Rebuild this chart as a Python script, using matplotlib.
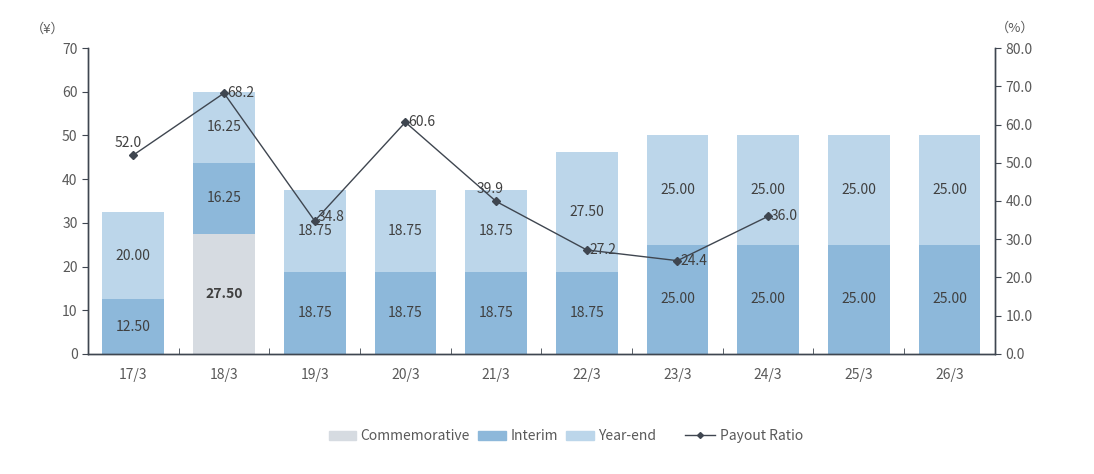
import numpy as np
import matplotlib.pyplot as plt
from matplotlib.lines import Line2D
from matplotlib.patches import Patch

plt.rcParams['font.family'] = ['Noto Sans CJK JP', 'DejaVu Sans']

years = ["17/3", "18/3", "19/3", "20/3", "21/3", "22/3", "23/3", "24/3", "25/3", "26/3"]
commemorative = [0, 27.50, 0, 0, 0, 0, 0, 0, 0, 0]
interim = [12.50, 16.25, 18.75, 18.75, 18.75, 18.75, 25.00, 25.00, 25.00, 25.00]
year_end = [20.00, 16.25, 18.75, 18.75, 18.75, 27.50, 25.00, 25.00, 25.00, 25.00]
payout = [52.0, 68.2, 34.8, 60.6, 39.9, 27.2, 24.4, 36.0]

c_comm = "#d6dbe1"
c_int = "#8db8da"
c_ye = "#bcd6ea"
c_line = "#3f4650"
c_text = "#595959"
c_lab = "#404040"

fig = plt.figure(figsize=(10.94, 4.74), dpi=100)
ax = fig.add_axes([0.0804, 0.2532, 0.829, 0.6455])
ax2 = ax.twinx()

x = np.arange(len(years))
w = 0.68
comm = np.array(commemorative)
intr = np.array(interim)
ye = np.array(year_end)

ax.bar(x, comm, w, color=c_comm, zorder=2)
ax.bar(x, intr, w, bottom=comm, color=c_int, zorder=2)
ax.bar(x, ye, w, bottom=comm + intr, color=c_ye, zorder=2)

for i in range(len(years)):
    if comm[i] > 0:
        ax.text(x[i], comm[i] / 2, f"{comm[i]:.2f}", ha="center", va="center",
                fontsize=10, color=c_lab, fontweight="bold")
    ax.text(x[i], comm[i] + intr[i] / 2, f"{intr[i]:.2f}", ha="center", va="center",
            fontsize=10, color=c_lab)
    ax.text(x[i], comm[i] + intr[i] + ye[i] / 2, f"{ye[i]:.2f}", ha="center", va="center",
            fontsize=10, color=c_lab)

px = x[:len(payout)]
ax2.plot(px, payout, color=c_line, lw=1, marker="D", ms=4, zorder=5)
for i, v in enumerate(payout):
    if i in (0, 4):
        ax2.annotate(f"{v:.1f}", (px[i], v), xytext=(-4, 4), textcoords="offset points",
                     ha="center", va="bottom", fontsize=10, color=c_lab)
    elif i == 2:
        ax2.annotate(f"{v:.1f}", (px[i], v), xytext=(2, 3), textcoords="offset points",
                     ha="left", va="center", fontsize=10, color=c_lab)
    else:
        ax2.annotate(f"{v:.1f}", (px[i], v), xytext=(2, 0), textcoords="offset points",
                     ha="left", va="center", fontsize=10, color=c_lab)

ax.set_xlim(-0.5, len(years) - 0.5)
ax.set_ylim(0, 70)
ax2.set_ylim(0, 80)
ax.set_yticks(range(0, 71, 10))
ax2.set_yticks(range(0, 81, 10))
ax2.set_yticklabels([f"{v:.1f}" for v in range(0, 81, 10)])
ax.set_xticks(x)
ax.set_xticklabels(years)
ax.set_xticks(np.arange(-0.5, len(years), 1), minor=True)
ax.tick_params(axis="x", which="major", length=0, pad=10, labelsize=10, colors=c_text)
ax.tick_params(axis="x", which="minor", length=4, direction="in", color=c_line)
ax.tick_params(axis="y", length=4, color=c_line, labelsize=10, labelcolor=c_text)
ax2.tick_params(axis="y", length=4, color=c_line, labelsize=10, labelcolor=c_text)

for a in (ax, ax2):
    a.spines["top"].set_visible(False)
    for s in ("left", "right", "bottom"):
        a.spines[s].set_color(c_line)
        a.spines[s].set_linewidth(1)

fig.text(0.044, 0.938, "（¥）", fontsize=9.5, color=c_text, ha="center", va="center")
fig.text(0.928, 0.94, "（%）", fontsize=9.5, color=c_text, ha="center", va="center")

bar_handles = [Patch(color=c_comm), Patch(color=c_int), Patch(color=c_ye)]
leg1 = fig.legend(bar_handles, ["Commemorative", "Interim", "Year-end"], loc="center",
                  bbox_to_anchor=(0.45, 0.08), ncol=3, frameon=False, fontsize=10,
                  handlelength=2.0, handleheight=0.6, handletextpad=0.3, columnspacing=0.6)
leg2 = fig.legend([Line2D([0], [0], color=c_line, lw=1, marker="D", ms=3)], ["Payout Ratio"],
                  loc="center", bbox_to_anchor=(0.68, 0.08), frameon=False, fontsize=10,
                  handlelength=2.2, handletextpad=0.3)
for lg in (leg1, leg2):
    for t in lg.get_texts():
        t.set_color(c_text)

fig.savefig("out.png", dpi=100)
